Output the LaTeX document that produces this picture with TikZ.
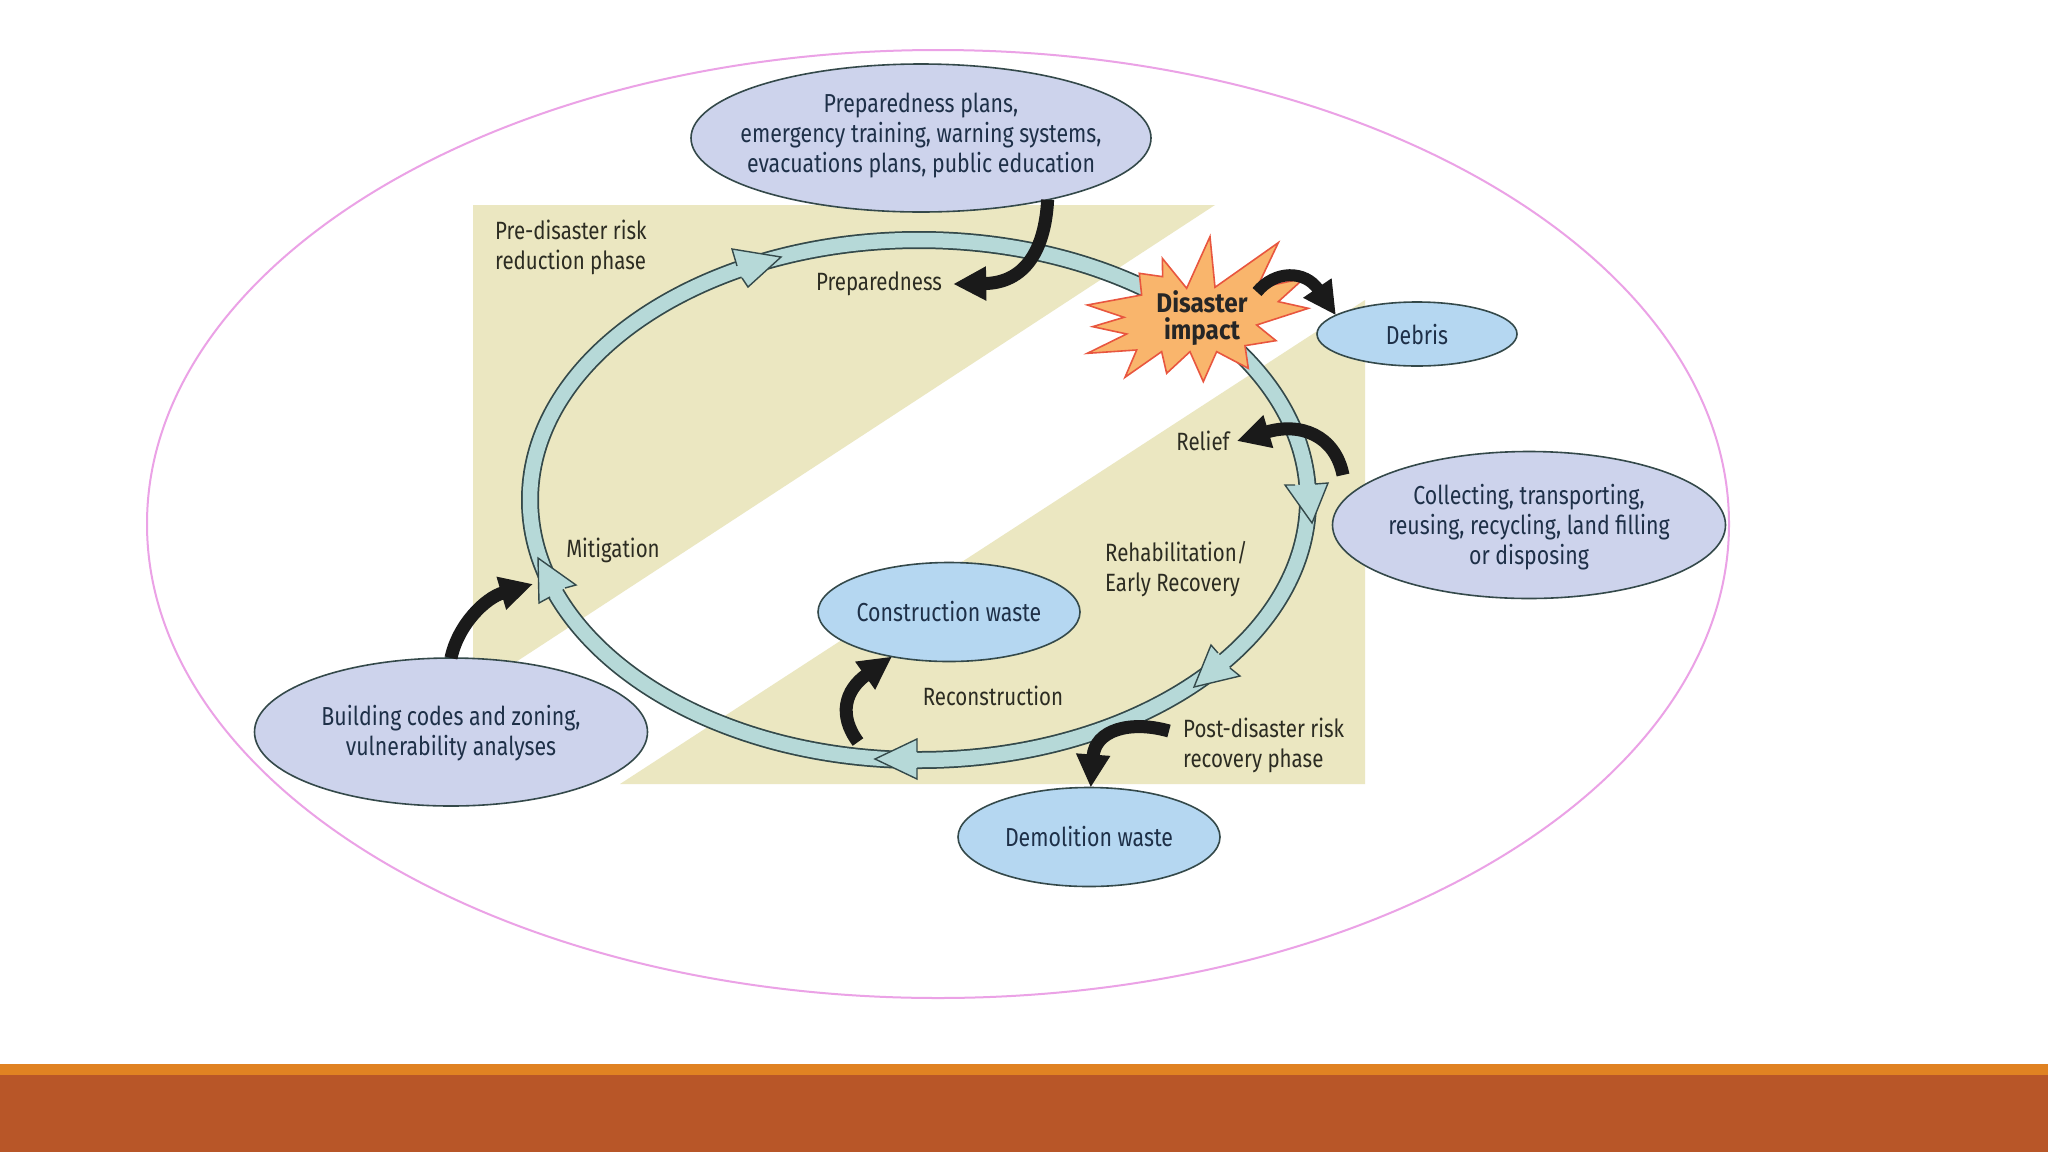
\documentclass[tikz,border=0pt]{standalone}
\usepackage{fontspec}
\setmainfont[FakeStretch=0.82]{Fira Sans}
\newfontfamily\burstfont[FakeStretch=0.9]{Fira Sans}
\usetikzlibrary{arrows.meta,shapes.geometric,calc}
\definecolor{beige}{HTML}{EBE7C1}
\definecolor{ringfill}{HTML}{B6D9D8}
\definecolor{ringline}{HTML}{34494A}
\definecolor{lav}{HTML}{CDD3EC}
\definecolor{sky}{HTML}{B5D7F1}
\definecolor{pinkline}{HTML}{EBA2E6}
\definecolor{burstfill}{HTML}{F9B56C}
\definecolor{burstline}{HTML}{E8563F}
\definecolor{barorange}{HTML}{E08222}
\definecolor{barbrown}{HTML}{B85628}
\definecolor{navytext}{HTML}{1E3048}
\definecolor{labeltext}{HTML}{2C2C22}
\definecolor{blackarrow}{HTML}{1A1A1A}
\tikzset{
  ell/.style={ellipse,draw=ringline,line width=1.6pt,inner sep=0pt,outer sep=0pt},
  lavell/.style={ell,fill=lav},
  skyell/.style={ell,fill=sky},
  ringhead/.style={fill=ringfill,draw=ringline,line width=1.4pt,line join=miter},
  blackcurve/.style={draw=blackarrow,line width=#1,-{Triangle[length=33pt,width=32pt]}},
  etext/.style={align=center,text=navytext,font=\fontsize{26}{30}\selectfont,inner sep=0pt},
  ltext/.style={align=left,text=labeltext,font=\fontsize{25}{30}\selectfont,inner sep=0pt,anchor=west},
  clabel/.style={text=labeltext,font=\fontsize{25}{30}\selectfont}
}
\begin{document}
\begin{tikzpicture}[x=1pt,y=-1pt]
\useasboundingbox (0,0) rectangle (2048,1152);
\fill[white] (0,0) rectangle (2048,1152);
% bars
\fill[barorange] (0,1064) rectangle (2048,1076);
\fill[barbrown] (0,1075) rectangle (2048,1152);
% outer ellipse
\draw[pinkline,line width=2pt] (938,524) ellipse [x radius=791,y radius=474];
% phase backgrounds
\fill[beige] (473,205) -- (1215,205) -- (473,690) -- cycle;
\fill[beige] (1365,300) -- (1365,784) -- (620,784) -- cycle;
% ring
\draw[ringline,line width=18pt] (919,500) ellipse [x radius=389,y radius=260];
\draw[ringfill,line width=14.5pt] (919,500) ellipse [x radius=389,y radius=260];
% ring arrowheads (open outline: back of the head stays open to the shaft)
\draw[ringhead] (737,266) -- (732,249) -- (781,257) -- (748,287) -- (742,278);
\draw[ringhead] (550,597) -- (539,603) -- (538,558) -- (576,585) -- (565,588);
\draw[ringhead] (1295,485) -- (1285,485) -- (1312,523) -- (1328,483) -- (1315,484);
\draw[ringhead] (1218,653) -- (1211,645) -- (1194,687) -- (1240,676) -- (1230,668);
\draw[ringhead] (917,752) -- (917,739) -- (875,759) -- (917,779) -- (917,768);
% ellipses
\node[lavell,minimum width=460pt,minimum height=148pt] (prep) at (921,138) {};
\node[skyell,minimum width=200pt,minimum height=64pt] (debris) at (1417,334) {};
\node[lavell,minimum width=393pt,minimum height=147pt] (coll) at (1529,525) {};
\node[skyell,minimum width=262pt,minimum height=99pt] (constr) at (949,612) {};
\node[skyell,minimum width=262pt,minimum height=99pt] (demol) at (1089,837) {};
\node[lavell,minimum width=393pt,minimum height=148pt] (build) at (451,732) {};
% burst
\begin{scope}[shift={(1000,180)},x=0.3333pt,y=-0.3333pt]
\draw[fill=burstfill,draw=burstline,line width=1.6pt,line join=miter]
 (630,170) -- (645,322) -- (835,188) -- (770,325) -- (912,295) -- (835,365) -- (925,385)
 -- (770,435) -- (828,482) -- (735,497) -- (745,565) -- (650,515) -- (610,605) -- (570,515)
 -- (500,580) -- (485,515) -- (375,592) -- (410,510) -- (262,520) -- (380,462) -- (278,440)
 -- (372,412) -- (262,375) -- (425,345) -- (418,280) -- (488,290) -- (487,235) -- (560,325) -- cycle;
\end{scope}
% texts
\node[etext] (preptext) at (921,136) {Preparedness plans,\\emergency training, warning systems,\\evacuations plans, public education};
\node[etext] (debristext) at (1417,335) {Debris};
\node[etext] (colltext) at (1529,527) {Collecting, transporting,\\reusing, recycling, land filling\\or disposing};
\node[etext] (constrtext) at (949,612) {Construction waste};
\node[etext] (demoltext) at (1089,837) {Demolition waste};
\node[etext] (buildtext) at (451,733) {Building codes and zoning,\\vulnerability analyses};
\node[ltext] (prephase) at (495,247) {Pre-disaster risk\\reduction phase};
\node[ltext] (rehab) at (1105,569) {Rehabilitation/\\Early Recovery};
\node[ltext] (postphase) at (1183,745) {Post-disaster risk\\recovery phase};
\node[clabel,inner sep=0pt] (lmit) at (613,550) {Mitigation};
\node[clabel,inner sep=0pt] (lrecon) at (993,696) {Reconstruction};
\node[clabel,inner sep=7pt] (lrelief) at (1203,441) {Relief};
\node[clabel,inner sep=11pt] (lprep) at (879,284) {Preparedness};
\node[align=center,text=black!85,inner sep=0pt,font=\burstfont\fontsize{27}{27}\bfseries\selectfont] (burst) at (1202,318) {Disaster\\impact};
% connector ends
\coordinate (tipmit) at (533,584);
\coordinate (tailrecon) at (858,742);
\coordinate (tailpost) at (1169,731);
\coordinate (tailrelief) at (1343,475);
\coordinate (taildebris) at (1257,292);
% black arrows
\draw[blackcurve=13pt] (prep.-26) .. controls (1045,250) and (1025,283) .. (lprep.east);
\draw[blackcurve=12pt] (taildebris) .. controls (1275,270) and (1305,270) .. (debris.167);
\draw[blackcurve=13pt] (tailrelief) .. controls (1335,435) and (1300,422) .. (lrelief.east);
\draw[blackcurve=13pt] (build.north) .. controls (458,625) and (485,598) .. (tipmit);
\draw[blackcurve=13pt] (tailrecon) .. controls (838,715) and (845,690) .. (constr.218);
\draw[blackcurve=13pt] (tailpost) .. controls (1130,720) and (1095,730) .. (demol.88);
\end{tikzpicture}
\end{document}
